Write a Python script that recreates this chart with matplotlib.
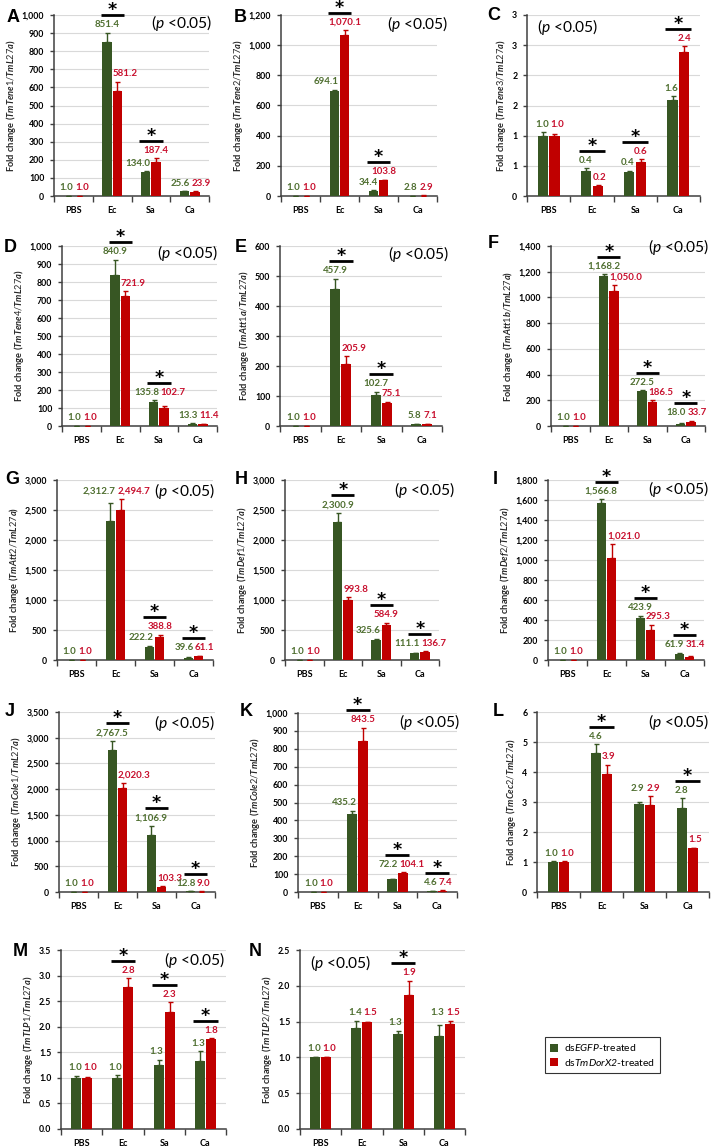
import numpy as np
import matplotlib
matplotlib.use("Agg")
import matplotlib.pyplot as plt
from matplotlib.patches import Patch

plt.rcParams['font.family'] = ['Lato', 'DejaVu Sans']
plt.rcParams['mathtext.fontset'] = 'custom'
plt.rcParams['mathtext.it'] = 'Lato:italic:bold'
plt.rcParams['mathtext.sf'] = 'Lato:italic'
plt.rcParams['mathtext.rm'] = 'Lato'
plt.rcParams['mathtext.bf'] = 'Lato:bold'

# ---------------- data ----------------
categories = ["PBS", "Ec", "Sa", "Ca"]
panel_letters = ["A", "B", "C", "D", "E", "F", "G", "H", "I", "J", "K", "L", "M", "N"]
genes = ["TmTene1", "TmTene2", "TmTene3", "TmTene4", "TmAtt1a", "TmAtt1b", "TmAtt2",
         "TmDef1", "TmDef2", "TmCole1", "TmCole2", "TmCec2", "TmTLP1", "TmTLP2"]

egfp_mean = [
    [1.0, 851.4, 134.0, 25.6],
    [1.0, 694.1, 34.4, 2.8],
    [1.0, 0.42, 0.40, 1.59],
    [1.0, 840.9, 135.8, 13.3],
    [1.0, 457.9, 102.7, 5.8],
    [1.0, 1168.2, 272.5, 18.0],
    [1.0, 2312.7, 222.2, 39.6],
    [1.0, 2300.9, 325.6, 111.1],
    [1.0, 1566.8, 423.9, 61.9],
    [1.0, 2767.5, 1106.9, 12.8],
    [1.0, 435.2, 72.2, 4.6],
    [1.0, 4.63, 2.94, 2.79],
    [1.0, 0.99, 1.26, 1.33],
    [1.0, 1.41, 1.33, 1.30],
]
dorx2_mean = [
    [1.0, 581.2, 187.4, 23.9],
    [1.0, 1070.1, 103.8, 2.9],
    [1.0, 0.16, 0.56, 2.39],
    [1.0, 721.9, 102.7, 11.4],
    [1.0, 205.9, 75.1, 7.1],
    [1.0, 1050.0, 186.5, 33.7],
    [1.0, 2494.7, 388.8, 61.1],
    [1.0, 993.8, 584.9, 136.7],
    [1.0, 1021.0, 295.3, 31.4],
    [1.0, 2020.3, 103.3, 9.0],
    [1.0, 843.5, 104.1, 7.4],
    [1.0, 3.92, 2.89, 1.47],
    [1.0, 2.78, 2.28, 1.76],
    [1.0, 1.49, 1.87, 1.47],
]
egfp_err = [
    [0.3, 50, 3, 2],
    [0.3, 10, 3, 0.5],
    [0.06, 0.04, 0.02, 0.06],
    [0.3, 84, 8, 2],
    [0.2, 33, 12, 1],
    [0.3, 12, 6, 3],
    [0.5, 298, 15, 5],
    [0.5, 155, 25, 5],
    [0.3, 40, 19, 10],
    [0.5, 170, 180, 3],
    [0.2, 20, 3, 1],
    [0.03, 0.30, 0.05, 0.33],
    [0.04, 0.06, 0.09, 0.19],
    [0.01, 0.10, 0.04, 0.15],
]
dorx2_err = [
    [0.3, 50, 20, 3],
    [0.3, 30, 3, 0.5],
    [0.03, 0.02, 0.05, 0.09],
    [0.3, 28, 8, 2],
    [0.2, 27, 6, 1],
    [0.3, 46, 14, 8],
    [0.5, 183, 30, 8],
    [0.5, 50, 40, 5],
    [0.3, 139, 55, 5],
    [0.5, 100, 10, 2],
    [0.2, 73, 5, 1],
    [0.03, 0.33, 0.30, 0.01],
    [0.02, 0.17, 0.20, 0.01],
    [0.01, 0.01, 0.20, 0.04],
]
significant = [
    [0, 1, 1, 0], [0, 1, 1, 0], [0, 1, 1, 1], [0, 1, 1, 0], [0, 1, 1, 0],
    [0, 1, 1, 1], [0, 0, 1, 1], [0, 1, 1, 1], [0, 1, 1, 1], [0, 1, 1, 1],
    [0, 1, 1, 1], [0, 1, 0, 1], [0, 1, 1, 1], [0, 0, 1, 0],
]
y_max = [1000, 1200, 3, 1000, 600, 1400, 3000, 3000, 1800, 3500, 1000, 6, 3.5, 2.5]
y_step = [100, 200, 0.5, 100, 100, 200, 500, 500, 200, 500, 100, 1, 0.5, 0.5]
y_decimals = [0, 0, 0, 0, 0, 0, 0, 0, 0, 0, 0, 0, 1, 1]
c_tick_labels = ["0", "1", "1", "2", "2", "3", "3"]
legend_labels = [r"ds$\mathsf{EGFP}$-treated", r"ds$\mathsf{TmDorX2}$-treated"]
p_text = r"($\mathsf{p}$ <0.05)"

# ---------------- layout (pixels) ----------------
W, H = 712, 1147
# left, right, top, zero
axes_px = [
    (54, 209, 15, 196), (281, 437, 15, 196), (527, 700, 15, 196),
    (62, 217, 246, 426), (280, 442, 246, 426), (551, 705, 246, 426),
    (57, 213, 480, 660), (285, 439, 480, 660), (548, 704, 480, 660),
    (59, 215, 712, 892), (298, 457, 713, 892), (537, 709, 712, 892),
    (61, 226, 950, 1129), (300, 465, 950, 1129),
]
p_pos = [(182, 23), (418, 24), (568, 27), (188, 253), (419, 254), (679, 247),
         (185, 491), (425, 490), (679, 489), (185, 723), (430, 722), (679, 722),
         (195, 960), (341, 963)]
letter_pos = [(13, 17), (240, 17), (494, 15), (10, 248), (241, 248), (493, 243),
              (12, 479), (241, 480), (495, 480), (10, 712), (246, 712), (498, 712),
              (20, 951), (255, 951)]

GREEN = "#375623"
RED = "#C00000"
GREEN_TXT = "#4f6f30"
RED_TXT = "#c8102e"
AX_COL = "#404040"

fig = plt.figure(figsize=(W / 100, H / 100), dpi=100)

bw = 0.24
off = 0.135
x = np.arange(4) + 0.5
LBL_FS = 7

for i in range(14):
    l, r, t, z = axes_px[i]
    ax = fig.add_axes([l / W, 1 - z / H, (r - l) / W, (z - t) / H])
    g = np.array(egfp_mean[i]); rd = np.array(dorx2_mean[i])
    ge = np.array(egfp_err[i]); re = np.array(dorx2_err[i])
    ym = y_max[i]
    ax.bar(x - off, g, width=bw, color=GREEN, zorder=3)
    ax.bar(x + off, rd, width=bw, color=RED, zorder=3)
    ax.errorbar(x - off, g, yerr=[np.zeros(4), ge], fmt='none', ecolor=GREEN,
                elinewidth=1, capsize=1.8, capthick=1, zorder=4)
    ax.errorbar(x + off, rd, yerr=[np.zeros(4), re], fmt='none', ecolor=RED,
                elinewidth=1, capsize=1.8, capthick=1, zorder=4)
    ax.set_xlim(0, 4)
    ax.set_ylim(0, ym)
    yt = np.arange(0, ym + y_step[i] / 2, y_step[i])
    ax.set_yticks(yt)
    if panel_letters[i] == "C":
        ax.set_yticklabels(c_tick_labels)
    elif y_decimals[i] == 1:
        ax.set_yticklabels([f"{v:.1f}" for v in yt])
    else:
        ax.set_yticklabels([f"{int(round(v)):,}" for v in yt])
    ax.set_xticks([0, 1, 2, 3, 4])
    ax.set_xticklabels([])
    ax.set_xticks(x, minor=True)
    ax.set_xticklabels(categories, minor=True)
    ax.tick_params(axis='x', which='major', length=4, width=1, color=AX_COL, direction='out')
    ax.tick_params(axis='x', which='minor', length=0, pad=7, labelsize=6.5)
    ax.tick_params(axis='y', length=3, width=1, color=AX_COL, pad=4, labelsize=6.3)
    for lab in ax.get_xticklabels(minor=True) + ax.get_yticklabels():
        lab.set_fontweight('bold')
    ax.yaxis.grid(True, color='#d9d9d9', lw=0.8, zorder=0)
    ax.set_axisbelow(True)
    for s in ['top', 'right']:
        ax.spines[s].set_visible(False)
    for s in ['left', 'bottom']:
        ax.spines[s].set_color(AX_COL)
        ax.spines[s].set_linewidth(1.1)
    ax.set_ylabel(r"Fold change ($\mathit{" + genes[i] + r"/TmL27a}$)", fontsize=6.7,
                  fontweight='bold', labelpad=3, color='#262626')

    # value labels
    px_per_unit = (z - t) / ym
    for j in range(4):
        gt = g[j] + ge[j]
        rt = rd[j] + re[j]
        if abs(gt - rt) * px_per_unit < 9:
            lev = max(gt, rt)
            ax.annotate(f"{g[j]:,.1f}", (x[j] + 0.02, lev), xytext=(-0.6, 2.5),
                        textcoords='offset points', ha='right', va='bottom', fontsize=LBL_FS,
                        fontweight='bold', color=GREEN_TXT, zorder=6, annotation_clip=False)
            ax.annotate(f"{rd[j]:,.1f}", (x[j] + 0.02, lev), xytext=(0.6, 2.5),
                        textcoords='offset points', ha='left', va='bottom', fontsize=LBL_FS,
                        fontweight='bold', color=RED_TXT, zorder=6, annotation_clip=False)
        else:
            low_is_green = gt < rt
            if low_is_green:
                ax.annotate(f"{g[j]:,.1f}", (x[j] - off + bw / 2, gt), xytext=(0, 2.5),
                            textcoords='offset points', ha='right', va='bottom',
                            fontsize=LBL_FS, fontweight='bold', color=GREEN_TXT,
                            zorder=6, annotation_clip=False)
                ax.annotate(f"{rd[j]:,.1f}", (x[j] + off, rt), xytext=(0, 2.5),
                            textcoords='offset points', ha='center', va='bottom',
                            fontsize=LBL_FS, fontweight='bold', color=RED_TXT,
                            zorder=6, annotation_clip=False)
            else:
                ax.annotate(f"{g[j]:,.1f}", (x[j] - off, gt), xytext=(0, 2.5),
                            textcoords='offset points', ha='center', va='bottom',
                            fontsize=LBL_FS, fontweight='bold', color=GREEN_TXT,
                            zorder=6, annotation_clip=False)
                ax.annotate(f"{rd[j]:,.1f}", (x[j] + off - bw / 2, rt), xytext=(0, 2.5),
                            textcoords='offset points', ha='left', va='bottom',
                            fontsize=LBL_FS, fontweight='bold', color=RED_TXT,
                            zorder=6, annotation_clip=False)

    # significance bars
    for j in range(4):
        if significant[i][j]:
            top = max(g[j] + ge[j], rd[j] + re[j])
            ly = top + 17.5 / px_per_unit
            ax.plot([x[j] - 0.3, x[j] + 0.3], [ly, ly], color='black', lw=2.0,
                    clip_on=False, zorder=6, solid_capstyle='butt')
            ax.text(x[j], ly, "*", ha='center', va='baseline', fontsize=12.5,
                    fontweight='bold', family='DejaVu Sans', clip_on=False)

    px, py = p_pos[i]
    fig.text(px / W, 1 - py / H, p_text, ha='center', va='center', fontsize=11.2)
    lx, lyy = letter_pos[i]
    fig.text(lx / W, 1 - lyy / H, panel_letters[i], ha='center', va='center',
             fontsize=13, fontweight='bold', family='Liberation Sans')

handles = [Patch(facecolor=GREEN, edgecolor='none'), Patch(facecolor=RED, edgecolor='none')]
leg = fig.legend(handles, legend_labels, loc='upper left',
                 bbox_to_anchor=(540 / W, 1 - 1032 / H), fontsize=7.5, frameon=True,
                 fancybox=False, edgecolor='black', handlelength=0.7, handleheight=0.9,
                 handletextpad=0.6, borderpad=0.5, labelspacing=0.3)
leg.get_frame().set_linewidth(0.8)

fig.savefig("out.png", dpi=100)
